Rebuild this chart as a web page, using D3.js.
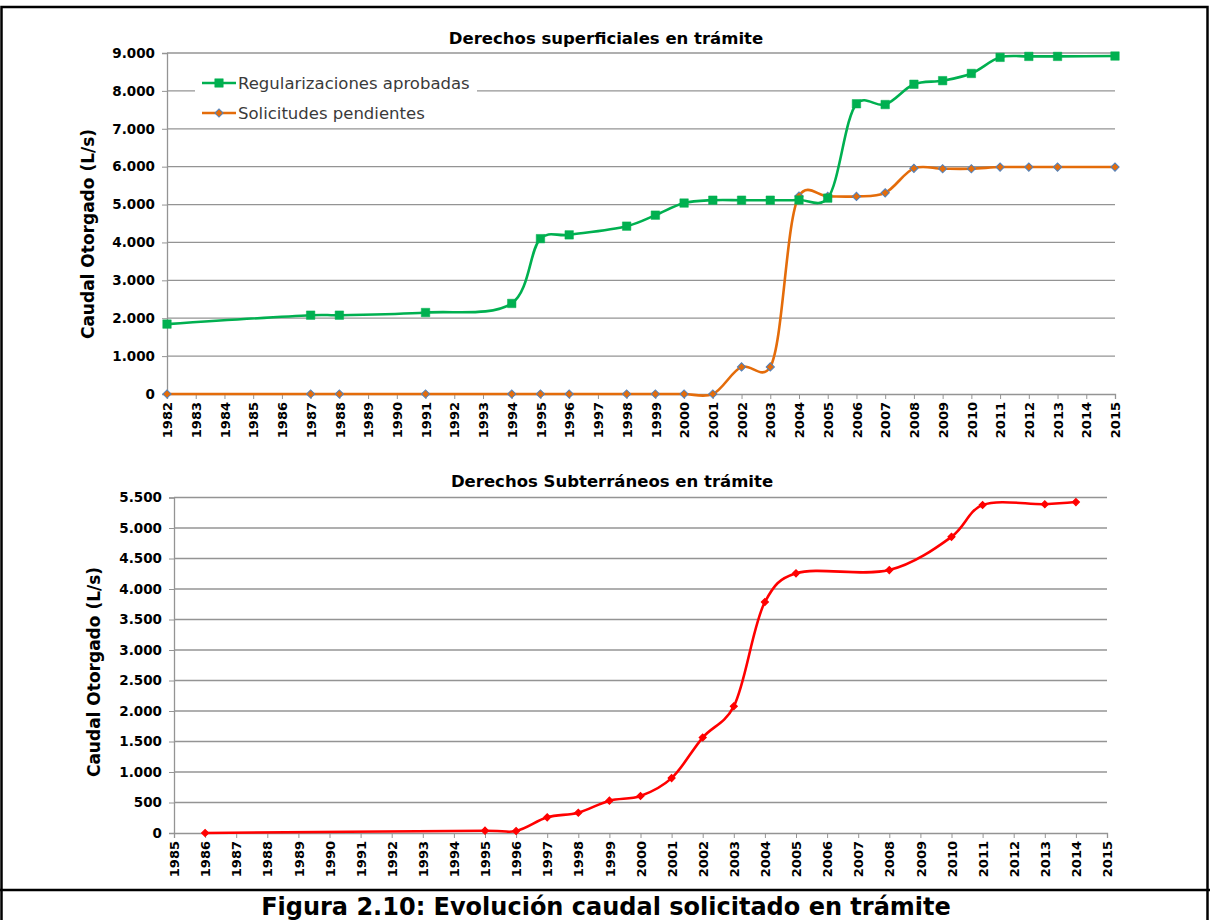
<!DOCTYPE html>
<html>
<head>
<meta charset="utf-8">
<script src="https://cdn.jsdelivr.net/npm/d3@7"></script>
<style>
  html, body { margin: 0; padding: 0; background: #fff; }
  svg { display: block; font-family: "DejaVu Sans", Verdana, sans-serif; }
</style>
</head>
<body>
<svg id="chart" width="1210" height="920"></svg>
<script>
// ---------- DATA ----------
const topCategories = d3.range(1982, 2016).map(String);
const topYears = ["1982","1987","1988","1991","1994","1995","1996","1998","1999","2000","2001","2002","2003","2004","2005","2006","2007","2008","2009","2010","2011","2012","2013","2015"];
const regularizaciones = [1845,2080,2080,2150,2390,4100,4200,4430,4720,5040,5115,5115,5115,5120,5170,7660,7640,8175,8270,8460,8885,8910,8910,8920];
const solicitudes = [0,0,0,0,0,0,0,0,0,0,0,715,715,5225,5215,5215,5310,5955,5945,5945,5990,5990,5990,5990];
const topTicks = [0,1000,2000,3000,4000,5000,6000,7000,8000,9000];

const bottomCategories = d3.range(1985, 2016).map(String);
const bottomYears = ["1986","1995","1996","1997","1998","1999","2000","2001","2002","2003","2004","2005","2008","2010","2011","2013","2014"];
const subterraneos = [0,38,33,257,333,530,607,900,1565,2077,3787,4257,4310,4855,5377,5390,5425];
const bottomTicks = [0,500,1000,1500,2000,2500,3000,3500,4000,4500,5000,5500];

const seriesNames = ["Regularizaciones aprobadas","Solicitudes pendientes"];
const titles = ["Derechos superficiales en trámite","Derechos Subterráneos en trámite"];
const yTitle = "Caudal Otorgado (L/s)";
const caption = "Figura 2.10: Evolución caudal solicitado en trámite";

// ---------- HELPERS ----------
const svg = d3.select("#chart");
const fmt = v => d3.format(",")(v).replace(/,/g, ".");
const curve = d3.curveCatmullRom.alpha(0.25);

function panel(cfg) {
  const g = svg.append("g");
  const x = d3.scalePoint().domain(cfg.categories).range([cfg.left, cfg.right]);
  const y = d3.scaleLinear().domain([0, cfg.max]).range([cfg.bottom, cfg.top]);

  // gridlines
  g.append("g").selectAll("line").data(cfg.ticks.filter(t => t > 0)).join("line")
    .attr("x1", cfg.left).attr("x2", cfg.right)
    .attr("y1", d => y(d)).attr("y2", d => y(d))
    .attr("stroke", "#949494").attr("stroke-width", 1.3);

  // y axis
  const ya = g.append("g").attr("transform", `translate(${cfg.left},0)`)
    .call(d3.axisLeft(y).tickValues(cfg.ticks).tickFormat(fmt).tickSize(5).tickPadding(7));
  ya.select(".domain").attr("stroke", "#949494").attr("stroke-width", 1.3);
  ya.selectAll(".tick line").attr("stroke", "#949494");
  ya.selectAll("text").attr("font-size", 13.5).attr("font-weight", "bold").attr("fill", "#000")
    .attr("font-family", "DejaVu Sans, sans-serif");

  // x axis
  const xa = g.append("g").attr("transform", `translate(0,${cfg.bottom})`)
    .call(d3.axisBottom(x).tickSize(5).tickPadding(4));
  xa.select(".domain").attr("stroke", "#949494").attr("stroke-width", 1.3);
  xa.selectAll(".tick line").attr("stroke", "#949494");
  xa.selectAll("text").attr("font-size", 13).attr("font-weight", "bold").attr("fill", "#000")
    .attr("font-family", "DejaVu Sans, sans-serif")
    .attr("transform", "rotate(-90)").attr("text-anchor", "end")
    .attr("x", -8).attr("y", 0).attr("dy", "0.36em");

  // title
  g.append("text").attr("x", cfg.titleX).attr("y", cfg.titleY)
    .attr("text-anchor", "middle").attr("font-size", 16.5).attr("font-weight", "bold")
    .text(cfg.title);

  // y title
  g.append("text").attr("transform", `translate(${cfg.yTitleX},${cfg.yTitleY}) rotate(-90)`)
    .attr("text-anchor", "middle").attr("font-size", 17).attr("font-weight", "bold")
    .text(yTitle);

  return { g, x, y };
}

function drawSeries(p, years, values, color, marker) {
  const pts = years.map((yr, i) => [p.x(yr), p.y(values[i])]);
  p.g.append("path").datum(pts)
    .attr("d", d3.line().curve(curve))
    .attr("fill", "none").attr("stroke", color).attr("stroke-width", marker.lw);
  const sym = d3.symbol().type(marker.type).size(marker.size);
  p.g.append("g").selectAll("path").data(pts).join("path")
    .attr("transform", d => `translate(${d[0]},${d[1]})` + (marker.rotate ? " rotate(45)" : ""))
    .attr("d", sym)
    .attr("fill", marker.fill).attr("stroke", marker.stroke).attr("stroke-width", marker.sw);
}

// ---------- TOP PANEL ----------
const topP = panel({
  categories: topCategories, left: 167, right: 1115, top: 53, bottom: 394, max: 9000,
  ticks: topTicks, title: titles[0], titleX: 606, titleY: 44, yTitleX: 94, yTitleY: 234
});

// legend background + entries
const leg = topP.g.append("g");
leg.append("rect").attr("x", 195).attr("y", 63).attr("width", 282).attr("height", 62).attr("fill", "#fff");

const greenMarker = { type: d3.symbolSquare, size: 72, fill: "#00B050", stroke: "#00B050", sw: 0.5, lw: 2.6 };
const orangeMarker = { type: d3.symbolSquare, size: 34, fill: "#E46C0A", stroke: "#4F81BD", sw: 1, lw: 2.6, rotate: true };

drawSeries(topP, topYears, solicitudes, "#E46C0A", orangeMarker);
drawSeries(topP, topYears, regularizaciones, "#00B050", greenMarker);

const legItems = [
  { name: seriesNames[0], color: "#00B050", m: greenMarker, y: 83 },
  { name: seriesNames[1], color: "#E46C0A", m: orangeMarker, y: 113 }
];
legItems.forEach(it => {
  leg.append("line").attr("x1", 202).attr("x2", 236).attr("y1", it.y).attr("y2", it.y)
    .attr("stroke", it.color).attr("stroke-width", 2.6);
  leg.append("path").attr("d", d3.symbol().type(it.m.type).size(it.m.size))
    .attr("transform", `translate(219,${it.y})` + (it.m.rotate ? " rotate(45)" : ""))
    .attr("fill", it.m.fill).attr("stroke", it.m.stroke).attr("stroke-width", it.m.sw);
  leg.append("text").attr("x", 238).attr("y", it.y).attr("dy", "0.36em")
    .attr("font-size", 16.5).attr("fill", "#3a3a3a").text(it.name);
});

// ---------- BOTTOM PANEL ----------
const botP = panel({
  categories: bottomCategories, left: 174, right: 1107, top: 497.5, bottom: 833, max: 5500,
  ticks: bottomTicks, title: titles[1], titleX: 612, titleY: 487, yTitleX: 100, yTitleY: 672
});
const redMarker = { type: d3.symbolSquare, size: 24, fill: "#FF0000", stroke: "#FF0000", sw: 1.2, lw: 2.6, rotate: true };
drawSeries(botP, bottomYears, subterraneos, "#FF0000", redMarker);

// ---------- FRAME & CAPTION ----------
svg.append("rect").attr("x", 1.5).attr("y", 7).attr("width", 1206).attr("height", 930)
  .attr("fill", "none").attr("stroke", "#000").attr("stroke-width", 2.5);
svg.append("line").attr("x1", 0).attr("x2", 1210).attr("y1", 890).attr("y2", 890)
  .attr("stroke", "#000").attr("stroke-width", 2.5);
svg.append("text").attr("x", 606).attr("y", 915).attr("text-anchor", "middle")
  .attr("font-size", 24).attr("font-weight", "bold").text(caption);
</script>
</body>
</html>
